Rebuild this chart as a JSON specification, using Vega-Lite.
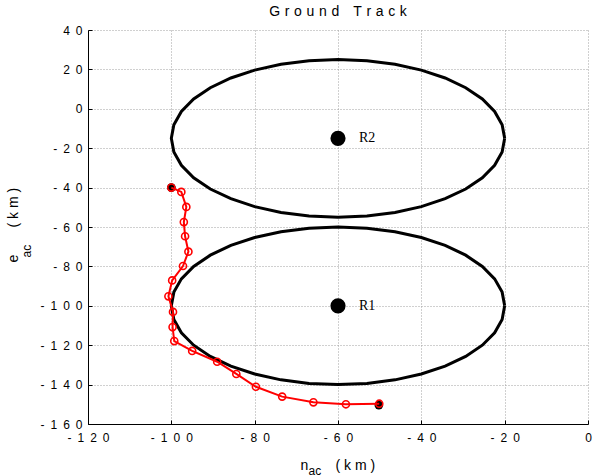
{
  "$schema": "https://vega.github.io/schema/vega-lite/v6.json",
  "width": 500,
  "height": 394,
  "autosize": {"type": "none"},
  "padding": {"left": 88, "top": 30, "right": 6, "bottom": 51},
  "background": "white",
  "title": {"text": "G\u2004r\u2004o\u2004u\u2004n\u2004d\u2004\u2004\u2004T\u2004r\u2004a\u2004c\u2004k", "font": "Liberation Sans", "fontSize": 14, "fontWeight": "normal", "color": "black", "anchor": "middle", "baseline": "alphabetic", "offset": 11, "dy": 17},
  "config": {
    "view": {"stroke": null},
    "axis": {"labelFont": "Liberation Sans", "labelFontSize": 12, "labelColor": "black", "domainColor": "black", "domainWidth": 1, "tickColor": "black", "gridColor": "#a0a0a0", "gridDash": [1, 2], "gridOpacity": 1, "titleFont": "Liberation Sans", "titleFontSize": 14, "titleFontWeight": "normal", "titleColor": "black"}
  },
  "datasets": {
    "rings": [
      {"ring":"R2","i":0,"x":-20,"y":-15},{"ring":"R2","i":1,"x":-20.608,"y":-8.054},{"ring":"R2","i":2,"x":-22.412,"y":-1.319},{"ring":"R2","i":3,"x":-25.359,"y":5},{"ring":"R2","i":4,"x":-29.358,"y":10.712},{"ring":"R2","i":5,"x":-34.288,"y":15.642},{"ring":"R2","i":6,"x":-40,"y":19.641},{"ring":"R2","i":7,"x":-46.319,"y":22.588},{"ring":"R2","i":8,"x":-53.054,"y":24.392},{"ring":"R2","i":9,"x":-60,"y":25},{"ring":"R2","i":10,"x":-66.946,"y":24.392},{"ring":"R2","i":11,"x":-73.681,"y":22.588},{"ring":"R2","i":12,"x":-80,"y":19.641},{"ring":"R2","i":13,"x":-85.712,"y":15.642},{"ring":"R2","i":14,"x":-90.642,"y":10.712},{"ring":"R2","i":15,"x":-94.641,"y":5},{"ring":"R2","i":16,"x":-97.588,"y":-1.319},{"ring":"R2","i":17,"x":-99.392,"y":-8.054},{"ring":"R2","i":18,"x":-100,"y":-15},{"ring":"R2","i":19,"x":-99.392,"y":-21.946},{"ring":"R2","i":20,"x":-97.588,"y":-28.681},{"ring":"R2","i":21,"x":-94.641,"y":-35},{"ring":"R2","i":22,"x":-90.642,"y":-40.712},{"ring":"R2","i":23,"x":-85.712,"y":-45.642},{"ring":"R2","i":24,"x":-80,"y":-49.641},{"ring":"R2","i":25,"x":-73.681,"y":-52.588},{"ring":"R2","i":26,"x":-66.946,"y":-54.392},{"ring":"R2","i":27,"x":-60,"y":-55},{"ring":"R2","i":28,"x":-53.054,"y":-54.392},{"ring":"R2","i":29,"x":-46.319,"y":-52.588},{"ring":"R2","i":30,"x":-40,"y":-49.641},{"ring":"R2","i":31,"x":-34.288,"y":-45.642},{"ring":"R2","i":32,"x":-29.358,"y":-40.712},{"ring":"R2","i":33,"x":-25.359,"y":-35},{"ring":"R2","i":34,"x":-22.412,"y":-28.681},{"ring":"R2","i":35,"x":-20.608,"y":-21.946},{"ring":"R2","i":36,"x":-20,"y":-15},
      {"ring":"R1","i":0,"x":-20,"y":-100},{"ring":"R1","i":1,"x":-20.608,"y":-93.054},{"ring":"R1","i":2,"x":-22.412,"y":-86.319},{"ring":"R1","i":3,"x":-25.359,"y":-80},{"ring":"R1","i":4,"x":-29.358,"y":-74.288},{"ring":"R1","i":5,"x":-34.288,"y":-69.358},{"ring":"R1","i":6,"x":-40,"y":-65.359},{"ring":"R1","i":7,"x":-46.319,"y":-62.412},{"ring":"R1","i":8,"x":-53.054,"y":-60.608},{"ring":"R1","i":9,"x":-60,"y":-60},{"ring":"R1","i":10,"x":-66.946,"y":-60.608},{"ring":"R1","i":11,"x":-73.681,"y":-62.412},{"ring":"R1","i":12,"x":-80,"y":-65.359},{"ring":"R1","i":13,"x":-85.712,"y":-69.358},{"ring":"R1","i":14,"x":-90.642,"y":-74.288},{"ring":"R1","i":15,"x":-94.641,"y":-80},{"ring":"R1","i":16,"x":-97.588,"y":-86.319},{"ring":"R1","i":17,"x":-99.392,"y":-93.054},{"ring":"R1","i":18,"x":-100,"y":-100},{"ring":"R1","i":19,"x":-99.392,"y":-106.946},{"ring":"R1","i":20,"x":-97.588,"y":-113.681},{"ring":"R1","i":21,"x":-94.641,"y":-120},{"ring":"R1","i":22,"x":-90.642,"y":-125.712},{"ring":"R1","i":23,"x":-85.712,"y":-130.642},{"ring":"R1","i":24,"x":-80,"y":-134.641},{"ring":"R1","i":25,"x":-73.681,"y":-137.588},{"ring":"R1","i":26,"x":-66.946,"y":-139.392},{"ring":"R1","i":27,"x":-60,"y":-140},{"ring":"R1","i":28,"x":-53.054,"y":-139.392},{"ring":"R1","i":29,"x":-46.319,"y":-137.588},{"ring":"R1","i":30,"x":-40,"y":-134.641},{"ring":"R1","i":31,"x":-34.288,"y":-130.642},{"ring":"R1","i":32,"x":-29.358,"y":-125.712},{"ring":"R1","i":33,"x":-25.359,"y":-120},{"ring":"R1","i":34,"x":-22.412,"y":-113.681},{"ring":"R1","i":35,"x":-20.608,"y":-106.946},{"ring":"R1","i":36,"x":-20,"y":-100}
    ],
    "centers": [
      {"name": "R2", "x": -60, "y": -15},
      {"name": "R1", "x": -60, "y": -100}
    ],
    "track": [
      {"i":0,"x":-100,"y":-40},{"i":1,"x":-97.6,"y":-42.2},{"i":2,"x":-96.4,"y":-49.8},{"i":3,"x":-97,"y":-57.5},{"i":4,"x":-96.7,"y":-64.7},{"i":5,"x":-95.9,"y":-72.5},{"i":6,"x":-97.2,"y":-79.8},{"i":7,"x":-99.8,"y":-87.1},{"i":8,"x":-100.7,"y":-95.2},{"i":9,"x":-99.6,"y":-103.1},{"i":10,"x":-99.7,"y":-110.8},{"i":11,"x":-99.3,"y":-117.9},{"i":12,"x":-95,"y":-122.9},{"i":13,"x":-89,"y":-128.4},{"i":14,"x":-84.4,"y":-134.6},{"i":15,"x":-79.7,"y":-141.1},{"i":16,"x":-73.4,"y":-146.1},{"i":17,"x":-65.9,"y":-149},{"i":18,"x":-58.1,"y":-150},{"i":19,"x":-50.1,"y":-149.7}
    ],
    "ends": [
      {"x": -100, "y": -40},
      {"x": -50.2, "y": -150.4}
    ]
  },
  "resolve": {"axis": {"x": "independent", "y": "independent"}},
  "layer": [
    {
      "data": {"name": "rings"},
      "mark": {"type": "line", "color": "black", "strokeWidth": 3, "interpolate": "linear"},
      "encoding": {
        "x": {"field": "x", "type": "quantitative", "scale": {"domain": [-120, 0], "nice": false, "zero": false},
          "axis": {"orient": "bottom", "values": [-120,-100,-80,-60,-40,-20,0], "grid": true, "tickSize": -4, "labelPadding": 12, "labelBaseline": "top", "labelExpr": "join(split(toString(datum.value), ''), '\u2002')", "labelFlush": false, "title": "n\u00a0\u00a0\u00a0\u00a0\u00a0\u00a0\u00a0(\u00a0k\u00a0m\u00a0)", "titleAlign": "left", "titleAnchor": "start", "titleBaseline": "alphabetic", "titleX": 212, "titleY": 45}},
        "y": {"field": "y", "type": "quantitative", "scale": {"domain": [-160, 40], "nice": false, "zero": false},
          "axis": {"orient": "left", "values": [-160,-140,-120,-100,-80,-60,-40,-20,0,20,40], "grid": true, "tickSize": -4, "labelPadding": 10, "labelBaseline": "middle", "labelExpr": "join(split(toString(datum.value), ''), '\u2002')", "labelFlush": false, "title": "e\u00a0\u00a0\u00a0\u00a0\u00a0\u00a0\u00a0(\u00a0k\u00a0m\u00a0)", "titleAngle": -90, "titleAlign": "left", "titleAnchor": "start", "titleBaseline": "alphabetic", "titleX": -71, "titleY": 232}},
        "detail": {"field": "ring"},
        "order": {"field": "i", "type": "quantitative"}
      }
    },
    {
      "data": {"name": "centers"},
      "mark": {"type": "point", "shape": "circle", "filled": true, "color": "black", "size": 230, "opacity": 1},
      "encoding": {
        "x": {"field": "x", "type": "quantitative", "axis": null},
        "y": {"field": "y", "type": "quantitative", "axis": null}
      }
    },
    {
      "data": {"name": "centers"},
      "mark": {"type": "text", "font": "Liberation Serif", "fontSize": 14, "color": "black", "align": "left", "baseline": "middle", "dx": 21},
      "encoding": {
        "x": {"field": "x", "type": "quantitative", "axis": null},
        "y": {"field": "y", "type": "quantitative", "axis": null},
        "text": {"field": "name"}
      }
    },
    {
      "data": {"name": "ends"},
      "mark": {"type": "point", "shape": "circle", "filled": true, "color": "black", "size": 75, "opacity": 1},
      "encoding": {
        "x": {"field": "x", "type": "quantitative", "axis": null},
        "y": {"field": "y", "type": "quantitative", "axis": null}
      }
    },
    {
      "data": {"name": "track"},
      "mark": {"type": "line", "color": "#ff0000", "strokeWidth": 2, "point": {"shape": "circle", "filled": false, "stroke": "#ff0000", "strokeWidth": 1.6, "size": 50, "opacity": 1}},
      "encoding": {
        "x": {"field": "x", "type": "quantitative",
          "axis": {"orient": "bottom", "labels": false, "ticks": false, "domain": false, "grid": false, "title": "ac", "titleFontSize": 12, "titleAlign": "left", "titleAnchor": "start", "titleBaseline": "alphabetic", "titleX": 220, "titleY": 50}},
        "y": {"field": "y", "type": "quantitative",
          "axis": {"orient": "left", "labels": false, "ticks": false, "domain": false, "grid": false, "title": "ac", "titleFontSize": 12, "titleAngle": -90, "titleAlign": "left", "titleAnchor": "start", "titleBaseline": "alphabetic", "titleX": -58, "titleY": 227}},
        "order": {"field": "i", "type": "quantitative"}
      }
    }
  ]
}
